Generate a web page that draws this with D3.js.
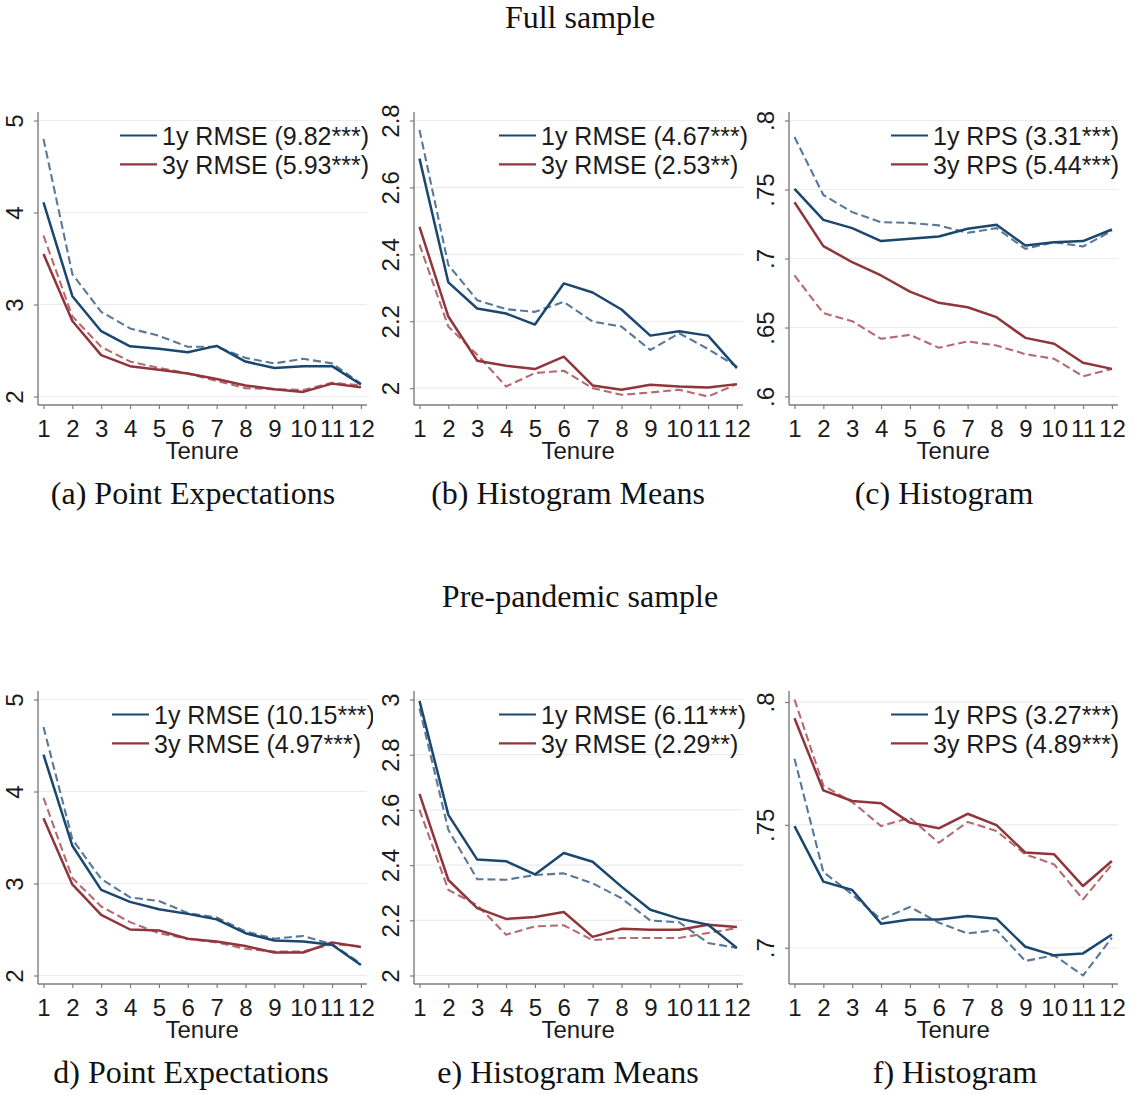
<!DOCTYPE html>
<html>
<head>
<meta charset="utf-8">
<script src="https://cdn.jsdelivr.net/npm/d3@7"></script>
<style>
  body { margin: 0; background: #fff; }
  svg { display: block; }
</style>
</head>
<body>
<script>
// ---- data -------------------------------------------------------------
const tenure = [1, 2, 3, 4, 5, 6, 7, 8, 9, 10, 11, 12];

// Full sample: point expectations (RMSE)
const aOneSolid   = [4.11, 3.09, 2.71, 2.545, 2.52, 2.48, 2.55, 2.38, 2.31, 2.33, 2.33, 2.13];
const aOneDash    = [4.80, 3.33, 2.92, 2.74, 2.66, 2.54, 2.54, 2.42, 2.36, 2.41, 2.36, 2.14];
const aThreeSolid = [3.55, 2.82, 2.45, 2.33, 2.29, 2.25, 2.19, 2.12, 2.08, 2.05, 2.14, 2.10];
const aThreeDash  = [3.75, 2.87, 2.54, 2.38, 2.31, 2.25, 2.17, 2.09, 2.08, 2.07, 2.15, 2.12];

// Full sample: histogram means (RMSE)
const bOneSolid   = [2.686, 2.316, 2.238, 2.223, 2.19, 2.313, 2.286, 2.235, 2.157, 2.17, 2.157, 2.06];
const bOneDash    = [2.772, 2.368, 2.263, 2.236, 2.228, 2.258, 2.199, 2.184, 2.114, 2.164, 2.117, 2.064];
const bThreeSolid = [2.482, 2.214, 2.082, 2.067, 2.057, 2.094, 2.008, 1.995, 2.010, 2.005, 2.002, 2.012];
const bThreeDash  = [2.429, 2.184, 2.10, 2.005, 2.045, 2.052, 2.0, 1.98, 1.987, 1.995, 1.975, 2.012];

// Full sample: histogram (RPS)
const cOneSolid   = [0.7505, 0.728, 0.722, 0.7126, 0.7143, 0.716, 0.7215, 0.7244, 0.7094, 0.7118, 0.7126, 0.721];
const cOneDash    = [0.788, 0.746, 0.7336, 0.7263, 0.7258, 0.724, 0.7186, 0.722, 0.707, 0.7118, 0.7087, 0.720];
const cThreeSolid = [0.7408, 0.709, 0.6973, 0.6877, 0.676, 0.6679, 0.6647, 0.6575, 0.6425, 0.6382, 0.6244, 0.620];
const cThreeDash  = [0.6877, 0.6604, 0.6546, 0.6418, 0.6447, 0.6353, 0.6399, 0.637, 0.6307, 0.6273, 0.6147, 0.620];

// Pre-pandemic sample: point expectations (RMSE)
const dOneSolid   = [4.40, 3.41, 2.93, 2.80, 2.72, 2.67, 2.61, 2.46, 2.38, 2.37, 2.335, 2.115];
const dOneDash    = [4.70, 3.48, 3.05, 2.85, 2.81, 2.68, 2.63, 2.48, 2.40, 2.43, 2.34, 2.13];
const dThreeSolid = [3.71, 2.99, 2.66, 2.50, 2.49, 2.40, 2.37, 2.32, 2.25, 2.25, 2.36, 2.31];
const dThreeDash  = [3.93, 3.06, 2.75, 2.58, 2.46, 2.40, 2.36, 2.29, 2.26, 2.26, 2.34, 2.32];

// Pre-pandemic sample: histogram means (RMSE)
const eOneSolid   = [2.995, 2.582, 2.42, 2.414, 2.366, 2.444, 2.412, 2.322, 2.238, 2.206, 2.184, 2.10];
const eOneDash    = [2.967, 2.528, 2.349, 2.347, 2.364, 2.370, 2.334, 2.28, 2.199, 2.193, 2.118, 2.10];
const eThreeSolid = [2.658, 2.346, 2.244, 2.205, 2.212, 2.23, 2.14, 2.169, 2.166, 2.166, 2.184, 2.176];
const eThreeDash  = [2.60, 2.31, 2.255, 2.148, 2.178, 2.182, 2.128, 2.136, 2.136, 2.136, 2.154, 2.172];

// Pre-pandemic sample: histogram (RPS)
const fOneSolid   = [0.7495, 0.7269, 0.7235, 0.7098, 0.7115, 0.7115, 0.7129, 0.7118, 0.7004, 0.6969, 0.6977, 0.7054];
const fOneDash    = [0.7769, 0.7308, 0.7217, 0.7115, 0.7166, 0.7102, 0.7058, 0.7072, 0.6946, 0.6969, 0.6887, 0.7041];
const fThreeSolid = [0.7934, 0.764, 0.7597, 0.7588, 0.7509, 0.7486, 0.7545, 0.7499, 0.7387, 0.738, 0.7251, 0.7353];
const fThreeDash  = [0.801, 0.766, 0.7593, 0.7495, 0.7529, 0.7427, 0.7512, 0.7475, 0.738, 0.7339, 0.7197, 0.7339];

// y-axis ticks and their labels
const ticksRMSE   = [2, 3, 4, 5];
const labelsRMSE  = ["2", "3", "4", "5"];
const ticksHistB  = [2, 2.2, 2.4, 2.6, 2.8];
const labelsHistB = ["2", "2.2", "2.4", "2.6", "2.8"];
const ticksHistE  = [2, 2.2, 2.4, 2.6, 2.8, 3];
const labelsHistE = ["2", "2.2", "2.4", "2.6", "2.8", "3"];
const ticksRPSc   = [0.6, 0.65, 0.7, 0.75, 0.8];
const labelsRPSc  = [".6", ".65", ".7", ".75", ".8"];
const ticksRPSf   = [0.7, 0.75, 0.8];
const labelsRPSf  = [".7", ".75", ".8"];

// legend labels, captions and section titles
const legendOne   = ["1y RMSE (9.82***)", "1y RMSE (4.67***)", "1y RPS (3.31***)",
                     "1y RMSE (10.15***)", "1y RMSE (6.11***)", "1y RPS (3.27***)"];
const legendThree = ["3y RMSE (5.93***)", "3y RMSE (2.53**)", "3y RPS (5.44***)",
                     "3y RMSE (4.97***)", "3y RMSE (2.29**)", "3y RPS (4.89***)"];
const captions    = ["(a) Point Expectations", "(b) Histogram Means", "(c) Histogram",
                     "d) Point Expectations", "e) Histogram Means", "f) Histogram"];
const sections    = ["Full sample", "Pre-pandemic sample"];
const xTitle      = "Tenure";

// ---- panel table -----------------------------------------------------
const panels = [
  { one: aOneSolid, oneRef: aOneDash, three: aThreeSolid, threeRef: aThreeDash, ticks: ticksRMSE,  labels: labelsRMSE },
  { one: bOneSolid, oneRef: bOneDash, three: bThreeSolid, threeRef: bThreeDash, ticks: ticksHistB, labels: labelsHistB },
  { one: cOneSolid, oneRef: cOneDash, three: cThreeSolid, threeRef: cThreeDash, ticks: ticksRPSc,  labels: labelsRPSc },
  { one: dOneSolid, oneRef: dOneDash, three: dThreeSolid, threeRef: dThreeDash, ticks: ticksRMSE,  labels: labelsRMSE },
  { one: eOneSolid, oneRef: eOneDash, three: eThreeSolid, threeRef: eThreeDash, ticks: ticksHistE, labels: labelsHistE },
  { one: fOneSolid, oneRef: fOneDash, three: fThreeSolid, threeRef: fThreeDash, ticks: ticksRPSf,  labels: labelsRPSf }
];

// ---- layout & style --------------------------------------------------
const W = 1135, H = 1095;
const colLeft = [38, 414, 789];          // y-axis line x per column
const rowTop = [112, 691];               // top of y-axis line per row
const plotH = 293;                       // axis line length (vertical)
const inset = 8.5;                       // data inset inside the axes
const xSpan = 317.4;                     // distance from tenure 1 to 12
const xPad = 5.5;
const legendX = [120, 499, 891, 112, 499, 891];
const captionX = [193, 568, 944, 191, 568, 955];
const captionY = [504, 1083];
const sectionY = [28, 607];

const SANS = "'Liberation Sans', Arial, Helvetica, sans-serif";
const SERIF = "'Liberation Serif', 'Times New Roman', serif";
const BLUE = "#1a476f", RED = "#90353b";
const BLUE_DASH = "#5a7898", RED_DASH = "#b56a72";
const AXIS = "#7d7d7d", GRID = "#ececec", TEXT = "#1b1b1b";

const svg = d3.select("body").append("svg")
  .attr("width", W).attr("height", H)
  .attr("viewBox", `0 0 ${W} ${H}`);

svg.append("rect").attr("width", W).attr("height", H).attr("fill", "#fff");

// section titles
svg.selectAll("text.section").data(sections).join("text")
  .attr("class", "section")
  .attr("x", 580).attr("y", (d, i) => sectionY[i])
  .attr("text-anchor", "middle")
  .attr("font-family", SERIF).attr("font-size", 32).attr("fill", "#111")
  .text(d => d);

panels.forEach((p, i) => {
  const col = i % 3, row = Math.floor(i / 3);
  const left = colLeft[col];
  const top = rowTop[row];
  const bottom = top + plotH;
  const x1 = left + xPad;
  const right = x1 + xSpan + 6;

  const all = p.one.concat(p.oneRef, p.three, p.threeRef, p.ticks);
  const y = d3.scaleLinear()
    .domain([d3.min(all), d3.max(all)])
    .range([bottom - inset, top + inset]);
  const x = d3.scaleLinear().domain([1, 12]).range([x1, x1 + xSpan]);

  const g = svg.append("g");
  const clipId = "clip" + i;
  svg.append("clipPath").attr("id", clipId)
    .append("rect").attr("x", left - 40).attr("y", top - 20)
    .attr("width", right - left + 46).attr("height", plotH + 120);

  // gridlines
  g.selectAll("line.grid").data(p.ticks).join("line")
    .attr("x1", left).attr("x2", right)
    .attr("y1", d => y(d)).attr("y2", d => y(d))
    .attr("stroke", GRID).attr("stroke-width", 1.2);

  // y axis
  const yAxis = d3.axisLeft(y)
    .tickValues(p.ticks)
    .tickFormat((d, k) => p.labels[k])
    .tickSize(4).tickSizeOuter(0);
  const gy = g.append("g").attr("transform", `translate(${left},0)`).call(yAxis);
  gy.select(".domain").remove();
  gy.selectAll(".tick line").attr("stroke", AXIS).attr("stroke-width", 1.2);
  gy.selectAll(".tick text")
    .attr("x", null).attr("dy", null)
    .attr("transform", "translate(-15,0) rotate(-90)")
    .attr("text-anchor", "middle")
    .attr("font-family", SANS).attr("font-size", 24).attr("fill", TEXT);

  // x axis
  const xAxis = d3.axisBottom(x)
    .tickValues(tenure)
    .tickFormat(d3.format("d"))
    .tickSize(4).tickSizeOuter(0);
  const gx = g.append("g").attr("transform", `translate(0,${bottom})`).call(xAxis);
  gx.select(".domain").remove();
  gx.selectAll(".tick line").attr("stroke", AXIS).attr("stroke-width", 1.2);
  gx.selectAll(".tick text")
    .attr("y", 31.5).attr("dy", null)
    .attr("font-family", SANS).attr("font-size", 24).attr("fill", TEXT);

  // axis lines
  g.append("line").attr("x1", left).attr("x2", left).attr("y1", top).attr("y2", bottom)
    .attr("stroke", AXIS).attr("stroke-width", 1.4);
  g.append("line").attr("x1", left).attr("x2", right).attr("y1", bottom).attr("y2", bottom)
    .attr("stroke", AXIS).attr("stroke-width", 1.4);

  // x title
  g.append("text")
    .attr("x", x1 + xSpan / 2).attr("y", bottom + 53.5)
    .attr("text-anchor", "middle")
    .attr("font-family", SANS).attr("font-size", 24).attr("fill", TEXT)
    .text(xTitle);

  // series
  const line = vals => d3.line()
    .x((d, k) => x(tenure[k]))
    .y(d => y(d))(vals);

  const series = [
    { v: p.oneRef,   c: BLUE_DASH, w: 2.1, dash: "8,4" },
    { v: p.threeRef, c: RED_DASH,  w: 2.1, dash: "8,4" },
    { v: p.three,    c: RED,       w: 2.5, dash: null },
    { v: p.one,      c: BLUE,      w: 2.5, dash: null }
  ];
  g.selectAll("path.series").data(series).join("path")
    .attr("class", "series")
    .attr("d", s => line(s.v))
    .attr("fill", "none")
    .attr("stroke", s => s.c)
    .attr("stroke-width", s => s.w)
    .attr("stroke-dasharray", s => s.dash)
    .attr("stroke-linejoin", "round");

  // legend
  const lg = g.append("g").attr("clip-path", `url(#${clipId})`);
  const entries = [
    { label: legendOne[i], c: BLUE },
    { label: legendThree[i], c: RED }
  ];
  entries.forEach((e, k) => {
    const base = top + inset + 15 + k * 28.8;
    lg.append("line")
      .attr("x1", legendX[i]).attr("x2", legendX[i] + 37)
      .attr("y1", base).attr("y2", base)
      .attr("stroke", e.c).attr("stroke-width", 2.2);
    lg.append("text")
      .attr("x", legendX[i] + 42).attr("y", base + 9.5)
      .attr("font-family", SANS).attr("font-size", 25).attr("fill", TEXT)
      .text(e.label);
  });

  // caption
  svg.append("text")
    .attr("x", captionX[i]).attr("y", captionY[row])
    .attr("text-anchor", "middle")
    .attr("font-family", SERIF).attr("font-size", 32).attr("fill", "#111")
    .text(captions[i]);
});
</script>
</body>
</html>
